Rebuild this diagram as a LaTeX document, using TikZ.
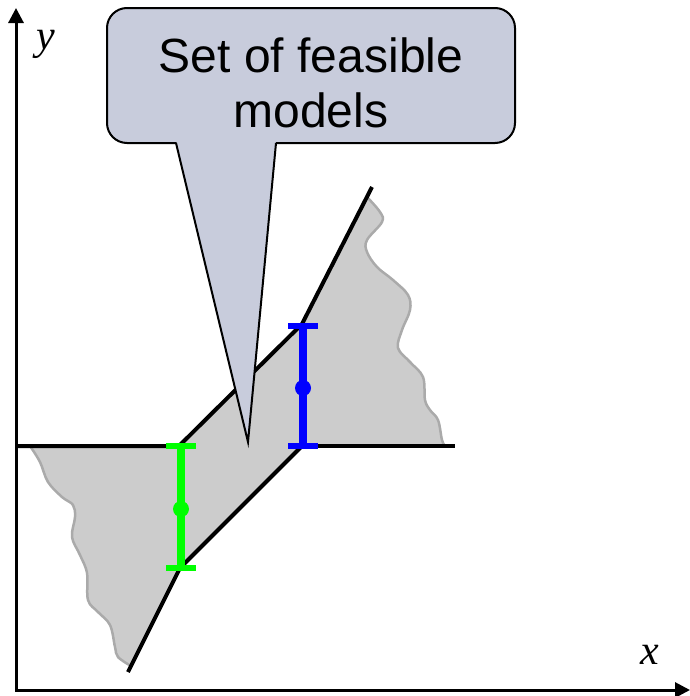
\documentclass[tikz,border=0pt]{standalone}
\usepackage{fontspec}
\setmainfont{Liberation Sans}
\newfontfamily\serifit{Liberation Serif}
\usetikzlibrary{arrows.meta,calc}

\definecolor{bubblefill}{RGB}{200,204,220}
\definecolor{regionfill}{RGB}{204,204,204}
\definecolor{regionedge}{RGB}{170,170,170}

\begin{document}
\begin{tikzpicture}[x=1pt,y=-1pt,
  axis/.style={line width=3pt,{Triangle[length=15pt,width=15pt]}-{Triangle[length=15pt,width=15pt]}},
  bound/.style={line width=4pt},
  region/.style={fill=regionfill,draw=regionedge,line width=2.5pt,line join=round},
  bubble/.style={draw,line width=2pt,fill=bubblefill,rounded corners=20pt},
  bubbletext/.style={align=center,font=\fontsize{48}{55}\selectfont},
  bar/.style={line width=8pt},
  barcap/.style={line width=6pt},
  lbl/.style={font=\fontsize{42}{42}\selectfont\serifit\itshape}]
\useasboundingbox (0,0) rectangle (690,696);

% Points of the two bounds
\coordinate (a1) at (179,446);
\coordinate (a2) at (302,324);
\coordinate (a3) at (372,187);
\coordinate (b0) at (128,672);
\coordinate (b1) at (180,568);
\coordinate (b2) at (302,446);

% Feasible region
\filldraw[region] (30,446) -- (a1) -- (a2) -- (367,197)
  -- plot[smooth,tension=0.6] coordinates {(367,197) (380,212) (382,222) (367,240) (367,252) (377,267) (393,280) (408,295) (410,310) (402,330) (398,348) (410,362) (423,377) (425,400) (430,410) (438,420) (442,440) (445,446)}
  -- (b2) -- (b1) -- (131,666)
  -- plot[smooth,tension=0.6] coordinates {(131,666) (118,657) (115,647) (110,625) (98,612) (88,600) (87,573) (80,555) (72,537) (75,517) (73,505) (62,497) (48,482) (40,462) (30,446)}
  -- cycle;

% Axes
\coordinate (O) at (16,690);
\coordinate (xtip) at (690,690);
\coordinate (ytip) at (16,8);
\draw[axis] (ytip) -- (O) -- (xtip);
\node[lbl] (ylab) at (46,44) {y};
\node[lbl] (xlab) at (650,655) {x};

% Bounds
\draw[bound] (16,446) -- (a1) -- (a2) -- (a3);
\draw[bound] (b2) -- (455,446);
\draw[bound] (b0) -- (b1) -- (b2);

% Callout
\draw[bubble] (107,8) rectangle (515,143);
\coordinate (tip) at (248,442);
\coordinate (pl) at (176,143);
\coordinate (pr) at (276,143);
\fill[bubblefill] ($(pl)+(0,-3)$) -- (tip) -- ($(pr)+(0,-3)$) -- cycle;
\draw[line width=2pt] (pl) -- (tip) -- (pr);
\node[bubbletext] (callout) at (311,83) {Set of feasible\\models};

% Error bars
\coordinate (gtop) at (181,446);
\coordinate (gbot) at (181,568);
\coordinate (gmid) at (181,509);
\draw[bar,green] (gtop) -- (gbot);
\draw[barcap,green] ([xshift=-15pt]gtop) -- ([xshift=15pt]gtop);
\draw[barcap,green] ([xshift=-15pt]gbot) -- ([xshift=15pt]gbot);
\fill[green] (gmid) circle[radius=8pt];

\coordinate (btop) at (303,326);
\coordinate (bbot) at (303,446);
\coordinate (bmid) at (303,388);
\draw[bar,blue] (btop) -- (bbot);
\draw[barcap,blue] ([xshift=-15pt]btop) -- ([xshift=15pt]btop);
\draw[barcap,blue] ([xshift=-15pt]bbot) -- ([xshift=15pt]bbot);
\fill[blue] (bmid) circle[radius=8pt];
\end{tikzpicture}
\end{document}
